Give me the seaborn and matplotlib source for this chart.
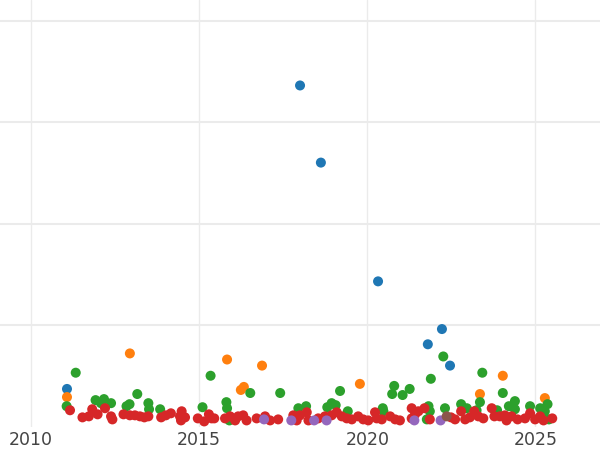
import numpy as np
import pandas as pd
import matplotlib
matplotlib.use("Agg")
import matplotlib.pyplot as plt
import seaborn as sns

# ---- data ----
blue_year = [2011.07, 2018.00, 2018.62, 2020.32, 2022.22, 2021.80, 2022.46]
blue_val = [37, 336, 260, 143, 96, 81, 60]

orange_year = [2011.07, 2012.94, 2015.83, 2016.87, 2016.24, 2016.33, 2019.78, 2024.03, 2023.35, 2025.28]
orange_val = [29, 72, 66, 60, 36, 39, 42, 50, 32, 28]

green_year = [2011.33, 2011.06, 2011.92, 2012.17, 2012.08, 2012.38, 2012.84, 2012.93, 2013.16, 2013.49,
              2013.51, 2013.84, 2015.34, 2015.10, 2015.81, 2015.83, 2016.52, 2017.41, 2017.95, 2018.18,
              2015.90, 2019.19, 2018.94, 2019.06, 2018.81, 2019.42, 2020.80, 2020.74, 2021.05, 2021.26,
              2020.46, 2020.48, 2021.89, 2021.82, 2021.86, 2021.77, 2022.26, 2023.42, 2024.03, 2023.35,
              2022.79, 2022.96, 2022.31, 2024.21, 2024.39, 2024.39, 2024.84, 2025.14, 2025.36, 2025.28,
              2023.86, 2023.25, 2025.40]
green_val = [53, 20, 26, 27, 23, 23, 20, 22, 32, 23,
             17, 17, 50, 19, 24, 18, 33, 33, 18, 20,
             6, 35, 23, 21, 19, 15, 40, 32, 31, 37,
             18, 15, 47, 20, 15, 7, 69, 53, 33, 24,
             22, 18, 18, 20, 25, 17, 20, 18, 22, 15,
             16, 16, 7]

red_year = [2011.16, 2011.53, 2011.72, 2011.82, 2011.98, 2012.20, 2012.38, 2012.42, 2012.75, 2012.94,
            2013.09, 2013.24, 2013.37, 2013.49, 2013.87, 2014.01, 2014.16, 2014.43, 2014.48, 2014.46,
            2014.58, 2014.96, 2015.15, 2015.29, 2015.37, 2015.45, 2015.77, 2015.92, 2016.07, 2016.16,
            2016.31, 2016.41, 2016.71, 2016.96, 2017.11, 2017.35, 2017.80, 2017.90, 2018.00, 2018.20,
            2018.25, 2018.54, 2018.74, 2018.94, 2019.09, 2019.24, 2019.39, 2019.54, 2019.73, 2019.88,
            2020.03, 2020.23, 2020.28, 2020.43, 2020.68, 2020.83, 2020.97, 2021.32, 2021.42, 2021.52,
            2021.70, 2021.32, 2021.86, 2022.49, 2022.61, 2022.79, 2022.91, 2023.05, 2023.18, 2023.30,
            2023.45, 2023.70, 2023.78, 2023.94, 2024.09, 2024.14, 2024.29, 2024.47, 2024.69, 2024.84,
            2024.99, 2025.14, 2025.24, 2025.50]
red_val = [16, 9, 10, 17, 12, 18, 10, 7, 12, 11,
           11, 10, 9, 10, 9, 11, 13, 10, 15, 6,
           9, 8, 5, 12, 8, 8, 8, 10, 6, 10,
           11, 6, 8, 10, 6, 7, 11, 6, 11, 14,
           6, 8, 10, 11, 14, 10, 8, 7, 10, 7,
           6, 14, 8, 7, 10, 7, 6, 18, 12, 15,
           18, 8, 7, 9, 7, 15, 7, 9, 15, 10,
           8, 18, 10, 10, 11, 6, 10, 7, 8, 13,
           7, 10, 6, 8]

purple_year = [2016.93, 2017.74, 2018.42, 2018.79, 2021.40, 2022.18]
purple_val = [7, 6, 6, 6, 6, 6]

brown_year = [2022.36]
brown_val = [10]

categories = ["A", "B", "C", "D", "E", "F"]
colors = ["#1f77b4", "#ff7f0e", "#2ca02c", "#d62728", "#9467bd", "#8c564b"]
x_ticks = [2010, 2015, 2020, 2025]

# ---- build table ----
frames = []
for cat, yrs, vals in zip(categories,
                          [blue_year, orange_year, green_year, red_year, purple_year, brown_year],
                          [blue_val, orange_val, green_val, red_val, purple_val, brown_val]):
    frames.append(pd.DataFrame({"year": yrs, "value": vals, "cat": cat}))
df = pd.concat(frames, ignore_index=True)

sns.set_style("white")
fig = plt.figure(figsize=(6, 4.5), dpi=100)
ax = fig.add_axes([0, 23.5 / 450, 1, 426.5 / 450])

sns.scatterplot(data=df, x="year", y="value", hue="cat", hue_order=categories,
                palette=dict(zip(categories, colors)), s=52, linewidth=0,
                alpha=1, legend=False, ax=ax, zorder=3)

ax.set_xlim(2009.078, 2026.92)
ax.set_ylim(0, 420.2)
ax.set_xticks(x_ticks)
ax.set_xticklabels([str(t) for t in x_ticks])
ax.set_yticks([100, 200, 300, 400])
ax.tick_params(axis="y", left=False, labelleft=False, length=0)
ax.tick_params(axis="x", bottom=False, length=0, labelsize=12.5, labelcolor="#444444", pad=3)
ax.xaxis.grid(True, color="#ebebeb", linewidth=1.0, zorder=0)
ax.yaxis.grid(True, color="#ebebeb", linewidth=1.5, zorder=0)
ax.set_axisbelow(True)
for sp in ax.spines.values():
    sp.set_visible(False)
ax.set_xlabel("")
ax.set_ylabel("")

fig.savefig("out.png", dpi=100)
